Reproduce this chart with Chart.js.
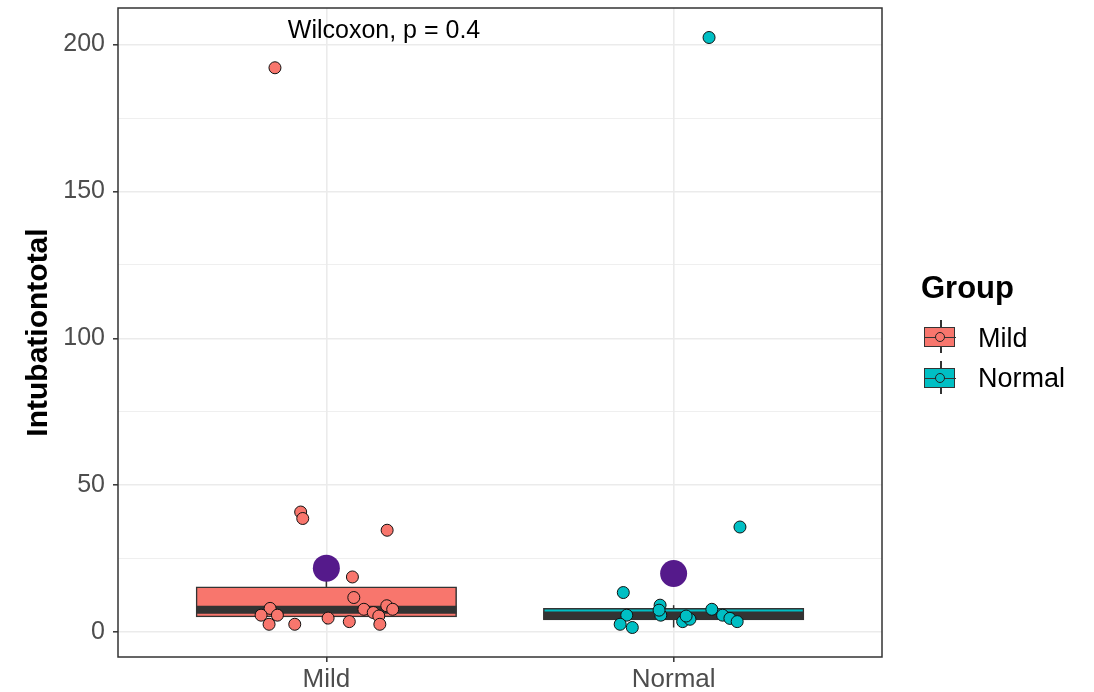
<!DOCTYPE html>
<html>
<head>
<meta charset="utf-8">
<script src="https://cdn.jsdelivr.net/npm/chart.js@4.4.1/dist/chart.umd.min.js"></script>
<style>
  html, body { margin: 0; padding: 0; background: #ffffff; }
  #wrap { position: relative; width: 1094px; height: 692px; font-family: "Liberation Sans", Arial, sans-serif; }
  #c { position: absolute; left: 0; top: 0; }
  .lg { position: absolute; line-height: 1; white-space: nowrap; color: #000; }
  .key { position: absolute; }
  .key .wh { position: absolute; left: 16px; width: 1.5px; background: #333; }
  .key .bx { position: absolute; left: 0; width: 29px; height: 18px; border: 1.5px solid #333; }
  .key .md { position: absolute; left: 0; width: 32px; height: 1.5px; background: #333; }
  .key .pt { position: absolute; width: 8px; height: 8px; border: 1.3px solid #222; border-radius: 50%; }
</style>
</head>
<body>
<div id="wrap">
  <canvas id="c" width="1094" height="692"></canvas>
  <div class="lg" style="left:921px; top:272px; font-size:31px; font-weight:bold;">Group</div>
  <div class="key" id="k0" style="left:924px; top:320px;"></div>
  <div class="lg" style="left:978px; top:325px; font-size:27px;">Mild</div>
  <div class="key" id="k1" style="left:924px; top:361px;"></div>
  <div class="lg" style="left:978px; top:365px; font-size:27px;">Normal</div>
</div>
<script>
// ---------------- data ----------------
const categories = ["Mild", "Normal"];
const groupColors = ["#F8766D", "#00BFC4"];
const yTicks = [0, 25, 50, 75, 100, 125, 150, 175, 200];
const yLabelTicks = [0, 50, 100, 150, 200];

// box statistics: [Mild, Normal]
const whiskerLow  = [2.7, 1.6];
const q1          = [5.2, 4.2];
const medians     = [7.6, 5.7];
const q3          = [15.4, 8.1];
const whiskerHigh = [18.8, 9.2];
const means       = [21.8, 20.0];

// jittered points (x = category position incl. jitter, y = value)
const mildX = [0.926, 0.932, 1.175, 1.075, 1.079, 0.838, 0.812, 0.859, 0.835, 0.909, 1.005, 1.066, 1.108, 1.135, 1.151, 1.154, 1.174, 1.191, 0.852];
const mildY = [40.9, 38.7, 34.7, 18.8, 11.8, 8.1, 5.8, 5.8, 2.7, 2.7, 4.8, 3.6, 7.8, 6.7, 5.5, 2.7, 9.0, 7.8, 192.1];
const normalX = [2.191, 1.855, 1.865, 1.846, 1.881, 1.961, 1.963, 1.958, 2.026, 2.047, 2.036, 2.110, 2.141, 2.162, 2.183, 2.102];
const normalY = [35.8, 13.5, 5.8, 2.7, 1.6, 9.2, 5.8, 7.5, 3.6, 4.4, 5.5, 7.8, 5.8, 4.7, 3.6, 202.4];

const testLabel = "Wilcoxon, p = 0.4";
const yTitle = "Intubationtotal";

// ---------------- styles ----------------
const boxHalf = 0.375;      // half box width in category units
const dark = "#333333";
const meanColor = "#551A8B";

const datasets = [];
// mean points (top-most)
datasets.push({
  type: "scatter", order: 0,
  data: means.map((m, i) => ({ x: i + 1, y: m })),
  pointRadius: 13.5, pointHoverRadius: 13.5,
  pointBackgroundColor: meanColor, pointBorderColor: meanColor, pointBorderWidth: 0
});
// jitter points
[[mildX, mildY], [normalX, normalY]].forEach(([xs, ys], g) => {
  datasets.push({
    type: "scatter", order: 1,
    data: xs.map((x, i) => ({ x: x, y: ys[i] })),
    pointRadius: 6, pointHoverRadius: 6,
    pointBackgroundColor: groupColors[g], pointBorderColor: "#111111", pointBorderWidth: 1
  });
});
// medians
categories.forEach((c, i) => {
  datasets.push({
    type: "line", order: 2,
    data: [{ x: i + 1 - boxHalf, y: medians[i] }, { x: i + 1 + boxHalf, y: medians[i] }],
    borderColor: dark, borderWidth: 8, borderCapStyle: "butt", pointRadius: 0, fill: false
  });
});
// boxes
datasets.push({
  type: "bar", order: 3,
  data: categories.map((c, i) => ({ x: i + 1, y: [q1[i], q3[i]] })),
  backgroundColor: groupColors, borderColor: dark, borderWidth: 1.5,
  borderSkipped: false, barThickness: 260.5
});
// whiskers
categories.forEach((c, i) => {
  datasets.push({
    type: "line", order: 4,
    data: [{ x: i + 1, y: whiskerLow[i] }, { x: i + 1, y: q1[i] }],
    borderColor: dark, borderWidth: 1.5, pointRadius: 0, fill: false
  });
  datasets.push({
    type: "line", order: 4,
    data: [{ x: i + 1, y: q3[i] }, { x: i + 1, y: whiskerHigh[i] }],
    borderColor: dark, borderWidth: 1.5, pointRadius: 0, fill: false
  });
});

const framePlugin = {
  id: "frame",
  afterDatasetsDraw(chart) {
    const { ctx, chartArea: a, scales } = chart;
    ctx.save();
    // annotation text
    ctx.font = "25px 'Liberation Sans', Arial, sans-serif";
    ctx.fillStyle = "#000000";
    ctx.textAlign = "left";
    ctx.textBaseline = "alphabetic";
    ctx.fillText(testLabel, scales.x.getPixelForValue(0.889), scales.y.getPixelForValue(Math.max(...normalY, ...mildY)));
    // panel border
    ctx.strokeStyle = dark;
    ctx.lineWidth = 1.5;
    ctx.strokeRect(a.left, a.top, a.right - a.left, a.bottom - a.top);
    ctx.restore();
  }
};

const tickFont = { family: "'Liberation Sans', Arial, sans-serif", size: 25, lineHeight: 0.5 };

new Chart(document.getElementById("c"), {
  type: "scatter",
  data: { datasets },
  plugins: [framePlugin],
  options: {
    responsive: false, animation: false, devicePixelRatio: 1,
    layout: { autoPadding: false, padding: { left: 0, right: 212, top: 8, bottom: 0 } },
    plugins: { legend: { display: false }, tooltip: { enabled: false } },
    scales: {
      x: {
        type: "linear", min: 0.4, max: 2.6, offset: false,
        afterBuildTicks: s => { s.ticks = categories.map((c, i) => ({ value: i + 1 })); },
        afterFit: s => { s.height = 35; s.paddingLeft = 0; s.paddingRight = 0; },
        ticks: { callback: v => categories[Math.round(v) - 1], color: "#4D4D4D", font: { family: "'Liberation Sans', Arial, sans-serif", size: 26 }, padding: 2, maxRotation: 0 },
        grid: { offset: false, color: "#EBEBEB", lineWidth: 1.6, tickColor: dark, tickLength: 5, tickWidth: 1.5 },
        border: { display: false }
      },
      y: {
        type: "linear", min: -8.44, max: 212.44,
        afterBuildTicks: s => { s.ticks = yTicks.map(v => ({ value: v })); },
        afterFit: s => { s.width = 118; s.paddingTop = 0; s.paddingBottom = 0; },
        ticks: {
          callback: v => (yLabelTicks.includes(v) ? String(v) : ""),
          color: "#4D4D4D", font: tickFont, padding: 8
        },
        grid: {
          offset: false,
          color: "#EBEBEB",
          lineWidth: c => (yLabelTicks.includes(c.tick.value) ? 1.6 : 0.8),
          tickColor: c => (yLabelTicks.includes(c.tick.value) ? dark : "rgba(0,0,0,0)"),
          tickLength: 5, tickWidth: 1.5
        },
        border: { display: false },
        title: {
          display: true, text: yTitle, color: "#000000",
          font: { family: "'Liberation Sans', Arial, sans-serif", size: 30, weight: "bold" },
          padding: { top: 21, bottom: 4 }
        }
      }
    }
  }
});

// legend keys (HTML)
function buildKey(el, color) {
  el.innerHTML =
    '<div class="wh" style="top:0; height:33px;"></div>' +
    '<div class="bx" style="top:7px; background:' + color + ';"></div>' +
    '<div class="md" style="top:16.5px;"></div>' +
    '<div class="pt" style="left:10.7px; top:11.7px; background:' + color + ';"></div>';
}
buildKey(document.getElementById("k0"), groupColors[0]);
buildKey(document.getElementById("k1"), groupColors[1]);
</script>
</body>
</html>
